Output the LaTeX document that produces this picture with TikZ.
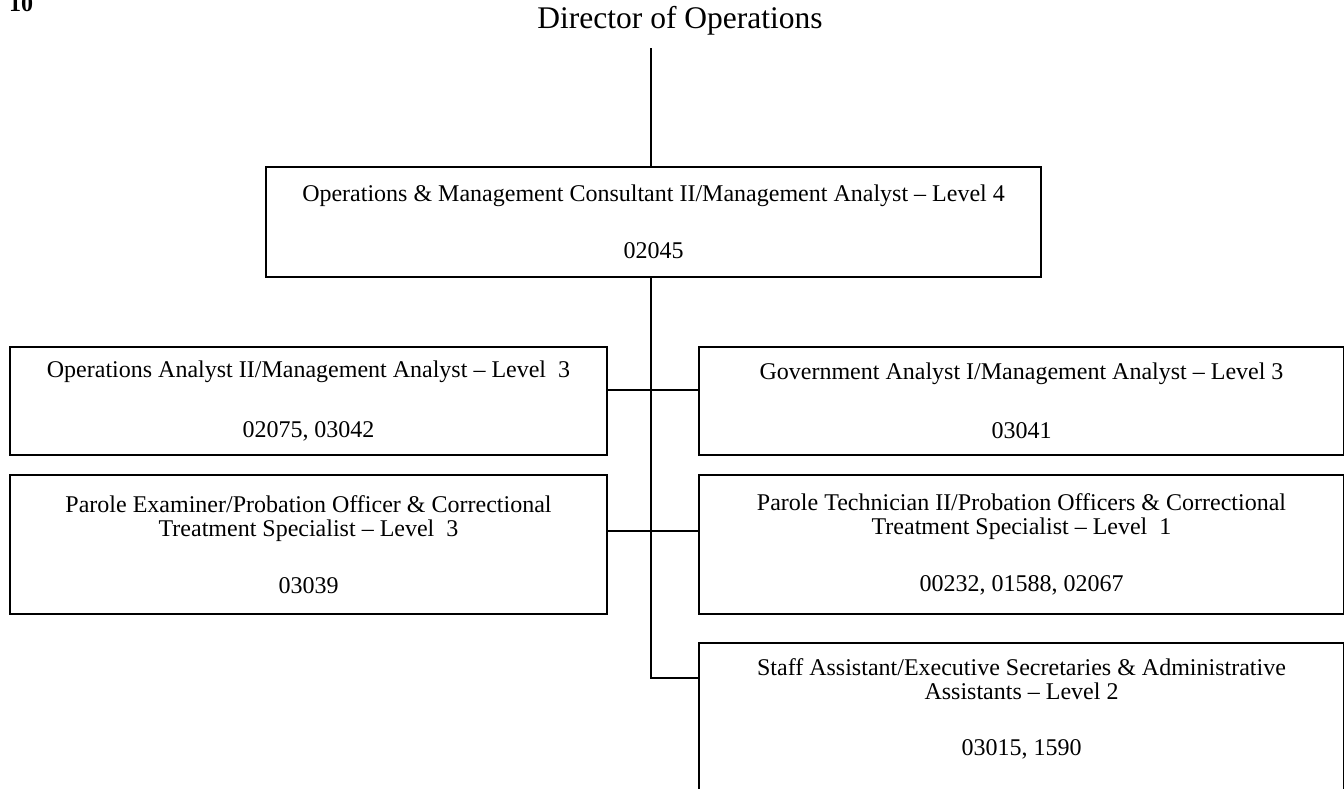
\documentclass[tikz,border=0pt]{standalone}
\usepackage{fontspec}
\setmainfont{Liberation Serif}
\begin{document}
\begin{tikzpicture}[x=1pt, y=-1pt,
  post/.style={draw, line width=2.4pt, inner sep=0pt, align=center,
    font=\fontsize{24}{24.5}\selectfont},
  link/.style={line width=1.8pt}]
\useasboundingbox (0,0) rectangle (1344,788);
% Page number and head
\node[font=\fontsize{24}{24.5}\selectfont\bfseries, anchor=base west, inner sep=0pt] (pg) at (9,11) {10};
\node[font=\fontsize{31.5}{32}\selectfont, inner sep=0pt, anchor=base] (dir) at (680,28) {Director of Operations};
% Boxes
\node[post, minimum width=775pt, minimum height=110pt] (omc) at (653.5,222)
  {Operations \& Management Consultant II/Management Analyst -- Level 4\\[32pt]02045};
\node[post, minimum width=597pt, minimum height=108pt] (opa) at (308.5,401)
  {Operations Analyst II/Management Analyst -- Level\ \ 3\\[35pt]02075, 03042};
\node[post, minimum width=645pt, minimum height=108pt] (gov) at (1021.5,401)
  {Government Analyst I/Management Analyst -- Level 3\\[35pt]03041};
\node[post, minimum width=597pt, minimum height=139pt] (pex) at (308.5,544.5)
  {Parole Examiner/Probation Officer \& Correctional\\Treatment Specialist -- Level\ \ 3\\[32.5pt]03039};
\node[post, minimum width=645pt, minimum height=139pt] (ptc) at (1021.5,544.5)
  {Parole Technician II/Probation Officers \& Correctional\\Treatment Specialist -- Level\ \ 1\\[32.5pt]00232, 01588, 02067};
\node[post, minimum width=645pt, minimum height=167pt] (sta) at (1021.5,726.5)
  {Staff Assistant/Executive Secretaries \& Administrative\\Assistants -- Level 2\\[31.5pt]03015, 1590\\[14pt]\mbox{}};
% Lines
\coordinate (trunk) at (651,0);
\draw[link] ([yshift=-20pt]dir.base -| trunk) -- (omc.north -| trunk);
\draw[link] (omc.south -| trunk) |- ([yshift=-36pt]sta.north west);
\draw[link] ([yshift=11pt]opa.east) -- ([yshift=11pt]gov.west);
\draw[link] ([yshift=13.5pt]pex.east) -- ([yshift=13.5pt]ptc.west);
\end{tikzpicture}
\end{document}
